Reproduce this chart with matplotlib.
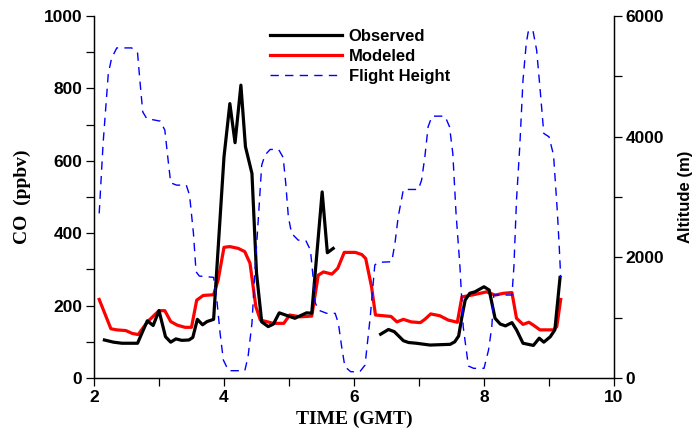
import numpy as np
import matplotlib
matplotlib.use("Agg")
import matplotlib.pyplot as plt

# === data ===
nan = np.nan
obs_time = [2.16, 2.30, 2.43, 2.67, 2.82, 2.91, 3.00, 3.10, 3.18, 3.26, 3.35, 3.46,
            3.52, 3.59, 3.67, 3.74, 3.84, 4.00, 4.09, 4.17, 4.26, 4.33, 4.43, 4.50,
            4.58, 4.68, 4.76, 4.85, 5.09, 5.27, 5.35, 5.51, 5.59, 5.68, nan,
            6.41, 6.53, 6.62, 6.76, 6.84, 6.96, 7.17, 7.32, 7.48, 7.55, 7.61, 7.66,
            7.71, 7.78, 7.86, 8.00, 8.08, 8.17, 8.25, 8.33, 8.43, 8.50, 8.60, 8.76,
            8.85, 8.92, 9.02, 9.09, 9.17]
obs_co = [105, 99, 96, 96, 158, 145, 186, 114, 99, 108, 104, 105,
          112, 162, 147, 156, 162, 611, 758, 650, 809, 639, 565, 290,
          155, 142, 149, 180, 165, 180, 179, 514, 346, 358, nan,
          121, 134, 128, 103, 98, 96, 91, 92, 93, 100, 116, 169,
          215, 234, 238, 252, 243, 165, 149, 144, 153, 133, 96, 90,
          110, 99, 114, 133, 278]

mod_time = [2.08, 2.26, 2.35, 2.49, 2.59, 2.68, 2.76, 2.85, 3.00, 3.09, 3.18, 3.28,
            3.40, 3.50, 3.58, 3.68, 3.84, 3.91, 4.00, 4.09, 4.22, 4.32, 4.40, 4.49,
            4.56, 4.76, 4.92, 5.01, 5.17, 5.35, 5.45, 5.53, 5.66, 5.75, 5.85, 6.02,
            6.12, 6.18, 6.27, 6.33, 6.57, 6.66, 6.76, 6.88, 7.02, 7.09, 7.18, 7.32,
            7.45, 7.59, 7.66, 7.81, 7.94, 8.04, 8.17, 8.30, 8.43, 8.50, 8.60, 8.69,
            8.76, 8.86, 9.07, 9.12, 9.18]
mod_co = [217, 136, 133, 131, 123, 120, 140, 160, 186, 186, 156, 146,
          140, 140, 215, 228, 230, 271, 361, 363, 358, 349, 317, 197,
          160, 151, 151, 174, 169, 171, 284, 293, 287, 303, 347, 347,
          341, 330, 252, 174, 170, 155, 162, 155, 153, 162, 177, 172,
          160, 154, 224, 229, 234, 238, 229, 234, 236, 165, 148, 154,
          146, 133, 133, 142, 217]

fh_time = [2.08, 2.14, 2.22, 2.27, 2.35, 2.58, 2.67, 2.71, 2.75, 2.81, 3.02, 3.09,
           3.14, 3.18, 3.27, 3.42, 3.47, 3.53, 3.57, 3.62, 3.84, 3.89, 3.94, 3.99,
           4.07, 4.32, 4.37, 4.43, 4.48, 4.53, 4.58, 4.63, 4.71, 4.84, 4.91, 4.95,
           4.99, 5.04, 5.14, 5.26, 5.33, 5.37, 5.40, 5.45, 5.58, 5.71, 5.76, 5.81,
           5.86, 5.95, 6.09, 6.17, 6.25, 6.32, 6.37, 6.58, 6.63, 6.68, 6.76, 6.99,
           7.04, 7.09, 7.14, 7.20, 7.40, 7.47, 7.52, 7.57, 7.63, 7.68, 7.76, 7.84,
           8.00, 8.07, 8.12, 8.15, 8.43, 8.46, 8.50, 8.55, 8.60, 8.65, 8.68, 8.75,
           8.81, 8.86, 8.92, 9.00, 9.07, 9.13, 9.16, 9.18]
fh_alt = [2728, 3888, 5047, 5296, 5471, 5471, 5388, 4881, 4411, 4301, 4257, 4108,
          3611, 3235, 3197, 3197, 3031, 2397, 1761, 1690, 1668, 1292, 740, 298,
          121, 121, 353, 906, 1844, 2672, 3528, 3694, 3788, 3788, 3656, 3225,
          2672, 2397, 2286, 2274, 2120, 1678, 1260, 1126, 1072, 1072, 906, 518,
          187, 104, 104, 215, 1015, 1872, 1917, 1927, 2231, 2672, 3125, 3125,
          3280, 3666, 4163, 4340, 4340, 4163, 3722, 2728, 1844, 850, 199, 160,
          160, 464, 850, 1375, 1375, 1844, 2948, 3832, 4936, 5544, 5737, 5776,
          5433, 4825, 4053, 3998, 3694, 2728, 2120, 1668]

# === fonts ===
sans = ['Liberation Sans', 'DejaVu Sans']
serif = ['Liberation Serif', 'DejaVu Serif']
plt.rcParams['font.family'] = sans
plt.rcParams['font.weight'] = 'bold'

fig = plt.figure(figsize=(6.96, 4.34), dpi=100)
ax = fig.add_axes([94/696, 1 - 378/434, 520/696, 362/434])
ax2 = ax.twinx()

l2, = ax.plot(mod_time, mod_co, color='#ff0000', lw=2.3, label='Modeled', zorder=2)
l1, = ax.plot(obs_time, obs_co, color='black', lw=2.3, label='Observed', zorder=3)
l3, = ax2.plot(fh_time, fh_alt, color='#0000ff', lw=1.0, linestyle=(0, (6, 4.5)),
               label='Flight Height')

ax.set_xlim(2, 10)
ax.set_ylim(0, 1000)
ax2.set_ylim(0, 6000)

ax.set_xticks([2, 4, 6, 8, 10])
ax.set_xticks([3, 5, 7, 9], minor=True)
ax.set_yticks(np.arange(0, 1001, 200))
ax.set_yticks(np.arange(100, 1000, 200), minor=True)
ax2.set_yticks([0, 2000, 4000, 6000])
ax2.set_yticks([1000, 3000, 5000], minor=True)

for a in (ax, ax2):
    a.spines['top'].set_visible(False)
    for s in a.spines.values():
        s.set_linewidth(0.9)
    a.tick_params(which='both', direction='out', length=5.5, width=0.9, labelsize=12.5, pad=3)
    for lab in a.get_xticklabels() + a.get_yticklabels():
        lab.set_fontweight('bold')

ax.set_xlabel('TIME (GMT)', family=serif, fontweight='bold', fontsize=14, labelpad=4)
ax.set_ylabel('CO  (ppbv)', family=serif, fontweight='bold', fontsize=14, labelpad=9)
ax2.set_ylabel('Altitude (m)', family=sans, fontweight='bold', fontsize=12, labelpad=10)

ax.legend(handles=[l1, l2, l3], loc='upper left', bbox_to_anchor=(262/696, 1 - 21/434),
          bbox_transform=fig.transFigure, frameon=False, borderpad=0,
          handlelength=4.3, handletextpad=0.4, labelspacing=0.3,
          prop={'weight': 'bold', 'size': 12})

fig.savefig('out.png', dpi=100)
